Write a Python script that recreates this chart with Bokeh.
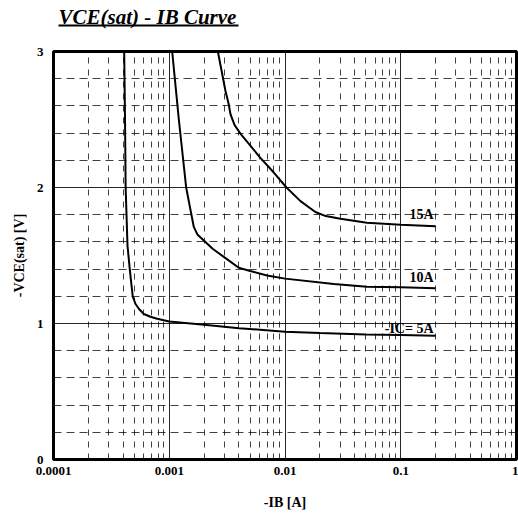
from bokeh.plotting import figure
from bokeh.models import FixedTicker, Label, BoxAnnotation
from bokeh.layouts import column
from bokeh.embed import file_html
from bokeh.resources import INLINE

# ---- data ----
ib_5a = [4.08e-4, 4.15e-4, 4.2e-4, 4.36e-4, 4.56e-4, 4.72e-4, 4.84e-4, 5.1e-4, 5.48e-4, 6.03e-4,
         6.88e-4, 7.87e-4, 1.0e-3, 2.0e-3, 4.0e-3, 0.01, 0.02, 0.05, 0.1, 0.2]
v_5a = [3.0, 2.49, 2.0, 1.57, 1.40, 1.28, 1.20, 1.145, 1.107, 1.07,
        1.05, 1.035, 1.015, 0.99, 0.965, 0.94, 0.93, 0.92, 0.915, 0.91]

ib_10a = [1.06e-3, 1.21e-3, 1.4e-3, 1.53e-3, 1.63e-3, 1.75e-3, 1.99e-3, 2.37e-3, 2.96e-3, 3.99e-3,
          5.0e-3, 7.0e-3, 0.01, 0.0264, 0.051, 0.1, 0.2]
v_10a = [3.0, 2.5, 2.0, 1.83, 1.71, 1.655, 1.61, 1.55, 1.49, 1.41,
         1.386, 1.353, 1.33, 1.29, 1.27, 1.267, 1.26]

ib_15a = [2.63e-3, 2.83e-3, 3.06e-3, 3.25e-3, 3.38e-3, 3.66e-3, 4.13e-3, 5.0e-3, 6.1e-3, 8.0e-3,
          0.0103, 0.0136, 0.0183, 0.0225, 0.0301, 0.051, 0.1, 0.2]
v_15a = [3.0, 2.86, 2.71, 2.62, 2.54, 2.46, 2.395, 2.31, 2.22, 2.11,
         2.0, 1.90, 1.82, 1.79, 1.77, 1.74, 1.726, 1.715]

curve_labels = ["-IC= 5A", "10A", "15A"]
label_x = [0.192, 0.192, 0.192]
label_y = [0.965, 1.335, 1.80]

x_major_ticks = [1e-4, 1e-3, 1e-2, 1e-1, 1.0]
x_tick_labels = ["0.0001", "0.001", "0.01", "0.1", "1"]
x_minor_ticks = [k * d for d in [1e-4, 1e-3, 1e-2, 1e-1] for k in range(2, 10)]
y_major_ticks = [0, 1, 2, 3]
y_minor_ticks = [0.2, 0.4, 0.6, 0.8, 1.2, 1.4, 1.6, 1.8, 2.2, 2.4, 2.6, 2.8]

title_text = "VCE(sat) - IB Curve"
x_label = "-IB [A]"
y_label = "-VCE(sat) [V]"

SERIF = "Liberation Serif"

# ---- title banner (separate small figure so the underline is not clipped) ----
# its frame is aligned with the main chart's frame (page x 53..516), so use page-pixel units
t = figure(width=518, height=43, x_range=(53, 516), y_range=(43, 0), title=None,
           x_axis_location=None, y_axis_location=None,
           output_backend="svg", toolbar_location=None,
           min_border=0, min_border_left=0, min_border_right=0, min_border_top=0, min_border_bottom=0)
t.grid.visible = False
t.outline_line_color = None
t.background_fill_color = "white"
t.border_fill_color = "white"
t.add_layout(Label(x=58, y=16, text=title_text, text_align="left", text_baseline="alphabetic",
                   text_font=SERIF, text_font_style="bold italic", text_font_size="21px",
                   text_color="black"))
t.add_layout(BoxAnnotation(left=58, right=238, top=24, bottom=26,
                           fill_color="black", fill_alpha=1, line_color=None))

# ---- main chart ----
p = figure(width=518, height=470, x_axis_type="log", x_range=(1e-4, 1.0), y_range=(0, 3),
           output_backend="svg", toolbar_location=None,
           min_border_left=53, min_border_right=2, min_border_top=8, min_border_bottom=54)
p.background_fill_color = "white"
p.border_fill_color = "white"
p.outline_line_color = "black"
p.outline_line_width = 3

p.xaxis.ticker = FixedTicker(ticks=x_major_ticks, minor_ticks=x_minor_ticks)
p.yaxis.ticker = FixedTicker(ticks=y_major_ticks, minor_ticks=y_minor_ticks)
p.xaxis.major_label_overrides = {tk: s for tk, s in zip(x_major_ticks, x_tick_labels)}
for ax in (p.xaxis, p.yaxis):
    ax.axis_line_color = None
    ax.major_tick_in = 0
    ax.major_tick_out = 0
    ax.minor_tick_in = 0
    ax.minor_tick_out = 0
    ax.major_label_text_font = SERIF
    ax.major_label_text_font_style = "bold"
    ax.major_label_text_font_size = "13px"
    ax.major_label_text_color = "black"
    ax.axis_label_text_font = SERIF
    ax.axis_label_text_font_style = "bold"
    ax.axis_label_text_font_size = "14px"
    ax.axis_label_text_color = "black"
p.xaxis.major_label_standoff = 7
p.yaxis.major_label_standoff = 10
p.xaxis.axis_label = x_label
p.yaxis.axis_label = y_label
p.xaxis.axis_label_standoff = 17
p.yaxis.axis_label_standoff = 7

p.xgrid.grid_line_color = "black"
p.xgrid.grid_line_width = 1
p.xgrid.grid_line_alpha = 0.85
p.xgrid.minor_grid_line_color = "black"
p.xgrid.minor_grid_line_width = 1
p.xgrid.minor_grid_line_alpha = 0.75
p.xgrid.minor_grid_line_dash = "6 6"
p.ygrid.grid_line_color = "black"
p.ygrid.grid_line_width = 1
p.ygrid.grid_line_alpha = 0.85
p.ygrid.minor_grid_line_color = "black"
p.ygrid.minor_grid_line_width = 1
p.ygrid.minor_grid_line_alpha = 0.75
p.ygrid.minor_grid_line_dash = "8 5"

for xs, ys in ((ib_5a, v_5a), (ib_10a, v_10a), (ib_15a, v_15a)):
    p.line(xs, ys, line_color="black", line_width=2)

for txt, lx, ly in zip(curve_labels, label_x, label_y):
    p.add_layout(Label(x=lx, y=ly, text=txt, text_align="right", text_baseline="alphabetic",
                       text_font=SERIF, text_font_style="bold", text_font_size="14px",
                       text_color="black"))

layout = column(t, p, spacing=0)
open("out.html", "w").write(file_html(layout, INLINE))
